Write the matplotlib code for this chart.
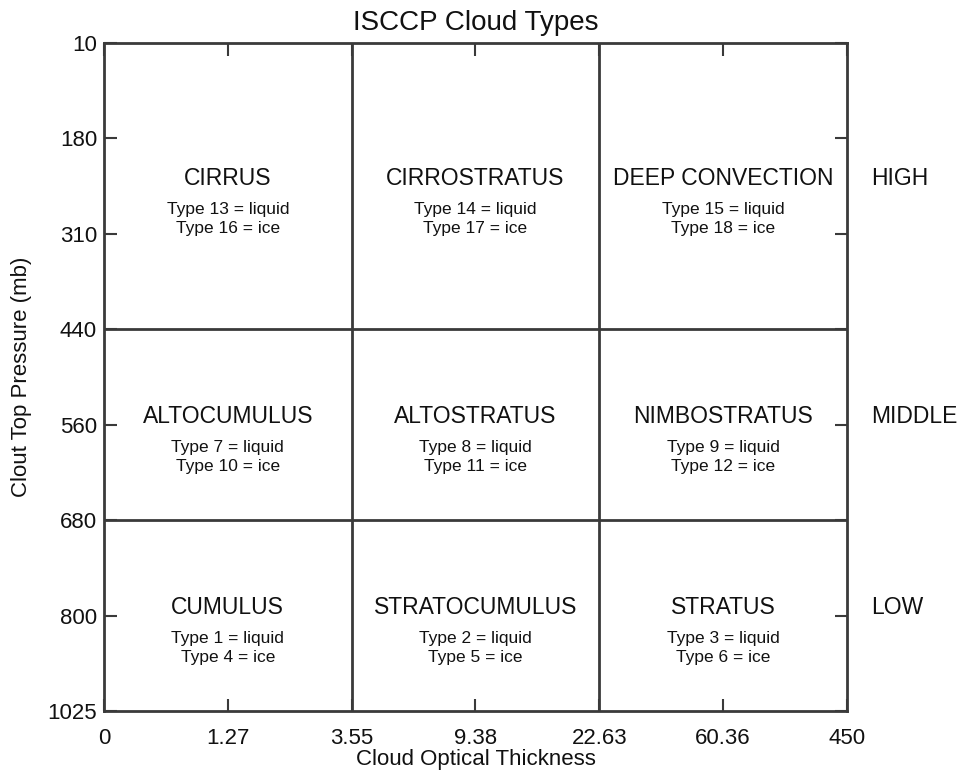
import matplotlib.pyplot as plt
import numpy as np

plt.rcParams['font.family'] = ['Liberation Sans', 'DejaVu Sans']

# ISCCP bins
tau_labels = ['0', '1.27', '3.55', '9.38', '22.63', '60.36', '450']
pc_labels = ['10', '180', '310', '440', '560', '680', '800', '1025']
tau_edges = [2, 4]          # index of 3.55 and 22.63
pc_edges = [3, 5]           # index of 440 and 680

cloud_names = [
    ['CIRRUS', 'CIRROSTRATUS', 'DEEP CONVECTION'],
    ['ALTOCUMULUS', 'ALTOSTRATUS', 'NIMBOSTRATUS'],
    ['CUMULUS', 'STRATOCUMULUS', 'STRATUS'],
]
liquid_types = [[13, 14, 15], [7, 8, 9], [1, 2, 3]]
ice_types = [[16, 17, 18], [10, 11, 12], [4, 5, 6]]
levels = ['HIGH', 'MIDDLE', 'LOW']

col_x = [1, 3, 5]
row_y = [1.5, 4, 6]

ink = '#3a3a3a'
txt = '#111111'

fig = plt.figure(figsize=(9.59, 7.70), dpi=100)
ax = fig.add_axes([0.1084, 0.0766, 0.7748, 0.8676])

ax.set_xlim(0, len(tau_labels) - 1)
ax.set_ylim(len(pc_labels) - 1, 0)
ax.set_xticks(np.arange(len(tau_labels)), tau_labels)
ax.set_yticks(np.arange(len(pc_labels)), pc_labels)
ax.tick_params(direction='in', length=9, width=1.5, color=ink, labelsize=16,
               labelcolor=txt, top=True, right=True)
ax.tick_params(axis='x', pad=12)
ax.tick_params(axis='y', pad=5)
for s in ax.spines.values():
    s.set_linewidth(2)
    s.set_color(ink)

for xe in tau_edges:
    ax.axvline(xe, color=ink, lw=2)
for ye in pc_edges:
    ax.axhline(ye, color=ink, lw=2)

for i, yc in enumerate(row_y):
    for j, xc in enumerate(col_x):
        ax.annotate(cloud_names[i][j], (xc, yc), xytext=(0, 8),
                    textcoords='offset pixels', ha='center', va='center',
                    fontsize=16.5, color=txt)
        ax.annotate(f'Type {liquid_types[i][j]} = liquid', (xc, yc),
                    xytext=(0, -23), textcoords='offset pixels',
                    ha='center', va='center', fontsize=12.5, color=txt)
        ax.annotate(f'Type {ice_types[i][j]} = ice', (xc, yc),
                    xytext=(0, -42), textcoords='offset pixels',
                    ha='center', va='center', fontsize=12.5, color=txt)
    ax.annotate(levels[i], (len(tau_labels) - 1, yc), xytext=(24, 8),
                textcoords='offset pixels', ha='left', va='center',
                fontsize=16.5, color=txt, annotation_clip=False)

ax.set_title('ISCCP Cloud Types', fontsize=20, pad=9, color=txt)
ax.set_xlabel('Cloud Optical Thickness', fontsize=16, labelpad=0, color=txt)
ax.set_ylabel('Clout Top Pressure (mb)', fontsize=16, labelpad=11, color=txt)

plt.savefig('out.png', dpi=100)
plt.close(fig)
